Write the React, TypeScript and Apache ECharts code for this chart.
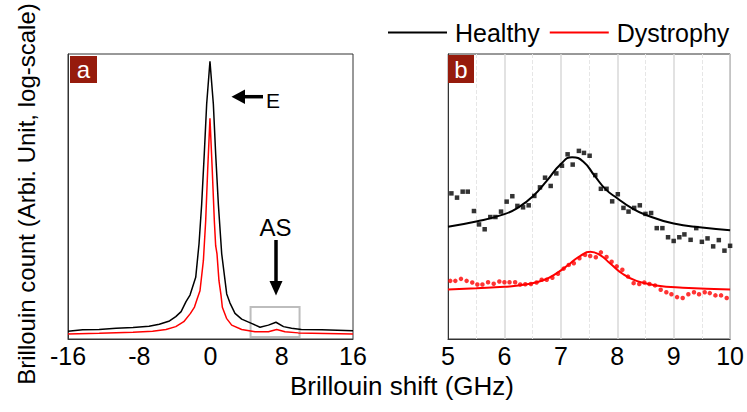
import React, { useEffect, useRef } from "react";
import * as echarts from "echarts";

// ---- Panel a: full spectrum (log-scale counts) ----
const aHealthyX = [-16, -14.35, -12.5, -10.6, -8.7, -6.9, -5.75, -4.6, -3.9, -3.3, -2.75, -2.3, -1.66, -1.29, -0.99, -0.7, -0.43, -0.06, 0.32, 0.58, 0.88, 1.26, 1.82, 2.19, 2.75, 3.5, 4.6, 5.56, 6.5, 7.35, 8.2, 9.1, 10.2, 12.5, 16];
const aHealthyY = [121, 125, 126, 130, 132, 136, 143, 155, 172, 194, 247, 290, 446, 1000, 2636, 8850, 29770, 83750, 29770, 8850, 2636, 785, 298, 239, 186, 162, 146, 133, 140, 150, 135, 130, 126, 125, 122];
const aDysX = [-16, -12.5, -8.7, -6.5, -5.0, -3.9, -3.0, -2.25, -1.8, -1.5, -1.18, -0.8, -0.54, -0.32, -0.06, 0.2, 0.43, 0.58, 0.73, 0.95, 1.18, 1.33, 1.8, 2.38, 3.5, 5.0, 6.5, 7.43, 8.37, 9.86, 16];
const aDysY = [113, 115, 118, 121, 126, 135, 152, 186, 217, 264, 322, 667, 1760, 5910, 21050, 5910, 1760, 960, 785, 411, 290, 216, 165, 140, 126, 119, 119, 126, 119, 116, 113];
const aTicks = [-16, -8, 0, 8, 16];
const aBoxX = [4.5, 10];
const aBoxY = [105, 217];

// ---- Panel b: anti-Stokes peak (normalized intensity) ----
const bHealthyX = [5.06, 5.16, 5.26, 5.35, 5.46, 5.55, 5.65, 5.75, 5.84, 5.94, 6.04, 6.14, 6.23, 6.33, 6.43, 6.53, 6.63, 6.72, 6.82, 6.92, 7.02, 7.12, 7.21, 7.32, 7.41, 7.51, 7.61, 7.71, 7.81, 7.91, 8.01, 8.11, 8.2, 8.3, 8.4, 8.5, 8.6, 8.7, 8.8, 8.9, 9.0, 9.1, 9.19, 9.3, 9.4, 9.5, 9.6, 9.7, 9.8, 9.9, 10.0];
const bHealthyY = [0.511, 0.496, 0.517, 0.517, 0.449, 0.402, 0.385, 0.428, 0.428, 0.447, 0.482, 0.501, 0.467, 0.462, 0.469, 0.502, 0.532, 0.566, 0.537, 0.581, 0.608, 0.648, 0.612, 0.66, 0.653, 0.643, 0.575, 0.527, 0.527, 0.483, 0.508, 0.46, 0.447, 0.46, 0.469, 0.439, 0.442, 0.389, 0.389, 0.357, 0.344, 0.357, 0.367, 0.348, 0.389, 0.341, 0.353, 0.325, 0.347, 0.31, 0.327];
const bDysX = [5.04, 5.13, 5.23, 5.33, 5.43, 5.52, 5.61, 5.71, 5.81, 5.91, 6.0, 6.09, 6.19, 6.28, 6.37, 6.47, 6.57, 6.66, 6.75, 6.85, 6.95, 7.05, 7.14, 7.23, 7.33, 7.43, 7.52, 7.62, 7.71, 7.81, 7.9, 7.99, 8.09, 8.19, 8.29, 8.39, 8.48, 8.57, 8.67, 8.77, 8.87, 8.96, 9.06, 9.16, 9.26, 9.36, 9.45, 9.55, 9.64, 9.74, 9.84, 9.94];
const bDysY = [0.204, 0.204, 0.211, 0.204, 0.198, 0.191, 0.191, 0.199, 0.194, 0.202, 0.199, 0.199, 0.199, 0.191, 0.192, 0.193, 0.198, 0.208, 0.208, 0.215, 0.229, 0.247, 0.26, 0.266, 0.283, 0.295, 0.291, 0.287, 0.304, 0.288, 0.271, 0.255, 0.243, 0.219, 0.196, 0.193, 0.198, 0.193, 0.188, 0.173, 0.164, 0.157, 0.147, 0.144, 0.157, 0.164, 0.157, 0.164, 0.161, 0.153, 0.153, 0.144];
const bFitHealthyX = [5.0, 5.5, 6.0, 6.25, 6.5, 6.75, 7.0, 7.2, 7.4, 7.6, 7.8, 8.0, 8.25, 8.5, 9.0, 9.5, 10.0];
const bFitHealthyY = [0.394, 0.412, 0.438, 0.462, 0.5, 0.555, 0.614, 0.638, 0.622, 0.572, 0.524, 0.494, 0.46, 0.436, 0.405, 0.391, 0.382];
const bFitDysX = [5.0, 5.5, 6.0, 6.4, 6.7, 6.93, 7.17, 7.34, 7.52, 7.69, 7.87, 8.1, 8.34, 8.69, 9.16, 10.0];
const bFitDysY = [0.174, 0.178, 0.183, 0.192, 0.207, 0.231, 0.266, 0.291, 0.306, 0.295, 0.266, 0.228, 0.204, 0.188, 0.18, 0.174];
const bTicks = [5, 6, 7, 8, 9, 10];

const seriesNames = ["Healthy", "Dystrophy"];
const xTitle = "Brillouin shift (GHz)";
const yTitle = "Brillouin count (Arbi. Unit, log-scale)";

const FONT = "'Liberation Sans', Arial, Helvetica, sans-serif";
const BLACK = "#000000";
const RED = "#FF0000";
const TAG = "#961B0C";

const zip = (xs: number[], ys: number[]) => xs.map((x, i) => [x, ys[i]]);

export default function App() {
  const ref = useRef<HTMLDivElement | null>(null);

  useEffect(() => {
    if (!ref.current) return;
    const chart = echarts.init(ref.current, undefined, { renderer: "svg" });

    const xAxisBase = {
      type: "value",
      axisTick: { show: false },
      axisLine: { show: true, onZero: false, lineStyle: { color: "#333", width: 1 } },
      axisLabel: { fontSize: 25, color: "#000", fontFamily: FONT, margin: 4, showMinLabel: true, showMaxLabel: true },
    };
    const hiddenY = {
      axisLabel: { show: false },
      axisTick: { show: false },
      splitLine: { show: false },
      axisLine: { show: true, onZero: false, lineStyle: { color: "#333", width: 1 } },
    };

    const option: any = {
      animation: false,
      backgroundColor: "#fff",
      textStyle: { fontFamily: FONT },
      legend: {
        data: [
          { name: seriesNames[0], icon: "rect" },
          { name: seriesNames[1], icon: "rect" },
        ],
        left: 388,
        top: 20,
        itemWidth: 59,
        itemHeight: 2,
        itemGap: 10,
        padding: 0,
        textStyle: { fontSize: 25, color: "#000", fontFamily: FONT, padding: [0, 0, 0, 3] },
      },
      grid: [
        { left: 68, top: 54, width: 285, height: 285, show: true, borderColor: "#333", borderWidth: 1, containLabel: false },
        { left: 448, top: 54, width: 285, height: 285, show: true, borderColor: "#333", borderWidth: 1, containLabel: false },
      ],
      xAxis: [
        {
          ...xAxisBase,
          gridIndex: 0,
          min: aTicks[0],
          max: aTicks[aTicks.length - 1],
          interval: 8,
          splitLine: { show: false },
        },
        {
          ...xAxisBase,
          gridIndex: 1,
          min: bTicks[0],
          max: bTicks[bTicks.length - 1],
          interval: 1,
          splitLine: { show: true, lineStyle: { color: "#D9D9D9", width: 1.5 } },
          minorTick: { show: false, splitNumber: 2 },
          minorSplitLine: { show: true, lineStyle: { color: "#E6E6E6", width: 1, type: "dashed" } },
        },
      ],
      yAxis: [
        { type: "log", logBase: 10, gridIndex: 0, min: 100, max: 100000, ...hiddenY },
        { type: "value", gridIndex: 1, min: 0, max: 1, ...hiddenY },
      ],
      series: [
        {
          name: seriesNames[0],
          type: "line",
          xAxisIndex: 0,
          yAxisIndex: 0,
          data: zip(aHealthyX, aHealthyY),
          symbol: "none",
          color: BLACK,
          lineStyle: { color: BLACK, width: 1.5 },
          z: 3,
          markArea: {
            silent: true,
            label: { show: false },
            itemStyle: { color: "rgba(0,0,0,0)", borderColor: "#BDBDBD", borderWidth: 2 },
            data: [[{ xAxis: aBoxX[0], yAxis: aBoxY[0] }, { xAxis: aBoxX[1], yAxis: aBoxY[1] }]],
          },
        },
        {
          name: seriesNames[1],
          type: "line",
          xAxisIndex: 0,
          yAxisIndex: 0,
          data: zip(aDysX, aDysY),
          symbol: "none",
          color: RED,
          lineStyle: { color: RED, width: 1.5 },
          z: 3,
        },
        {
          name: seriesNames[0],
          type: "line",
          xAxisIndex: 1,
          yAxisIndex: 1,
          data: zip(bFitHealthyX, bFitHealthyY),
          symbol: "none",
          smooth: true,
          color: BLACK,
          lineStyle: { color: BLACK, width: 2 },
          z: 3,
        },
        {
          name: seriesNames[1],
          type: "line",
          xAxisIndex: 1,
          yAxisIndex: 1,
          data: zip(bFitDysX, bFitDysY),
          symbol: "none",
          smooth: true,
          color: RED,
          lineStyle: { color: RED, width: 2 },
          z: 3,
        },
        {
          name: seriesNames[0],
          type: "scatter",
          xAxisIndex: 1,
          yAxisIndex: 1,
          data: zip(bHealthyX, bHealthyY),
          symbol: "rect",
          symbolSize: 4.5,
          itemStyle: { color: BLACK },
          z: 4,
        },
        {
          name: seriesNames[1],
          type: "scatter",
          xAxisIndex: 1,
          yAxisIndex: 1,
          data: zip(bDysX, bDysY),
          symbol: "circle",
          symbolSize: 4.5,
          itemStyle: { color: RED },
          z: 4,
        },
      ],
      graphic: [
        // panel tags
        { type: "rect", shape: { x: 70, y: 56, width: 27, height: 27 }, style: { fill: TAG }, z: 10 },
        { type: "text", x: 83.5, y: 69.5, style: { text: "a", fill: "#fff", fontSize: 24, fontFamily: FONT, align: "center", verticalAlign: "middle" }, z: 11 },
        { type: "rect", shape: { x: 448, y: 55, width: 26, height: 28 }, style: { fill: TAG }, z: 10 },
        { type: "text", x: 461, y: 69.5, style: { text: "b", fill: "#fff", fontSize: 24, fontFamily: FONT, align: "center", verticalAlign: "middle" }, z: 11 },
        // E arrow
        { type: "polygon", shape: { points: [[231.5, 96.7], [245, 89.5], [245, 104]] }, style: { fill: "#000" }, z: 10 },
        { type: "line", shape: { x1: 244, y1: 96.7, x2: 263, y2: 96.7 }, style: { stroke: "#000", lineWidth: 3.5 }, z: 10 },
        { type: "text", x: 266, y: 100.5, style: { text: "E", fill: "#000", fontSize: 21, fontFamily: FONT, align: "left", verticalAlign: "middle" }, z: 10 },
        // AS arrow
        { type: "line", shape: { x1: 276, y1: 240, x2: 276, y2: 283 }, style: { stroke: "#000", lineWidth: 3.5 }, z: 10 },
        { type: "polygon", shape: { points: [[276, 295.5], [269.5, 281], [282.5, 281]] }, style: { fill: "#000" }, z: 10 },
        { type: "text", x: 275.5, y: 227, style: { text: "AS", fill: "#000", fontSize: 24, fontFamily: FONT, align: "center", verticalAlign: "middle" }, z: 10 },
        // axis titles
        { type: "text", x: 402, y: 386, style: { text: xTitle, fill: "#000", fontSize: 26, fontFamily: FONT, align: "center", verticalAlign: "middle" } },
        { type: "text", x: 26, y: 194, rotation: Math.PI / 2, style: { text: yTitle, fill: "#000", fontSize: 24, fontFamily: FONT, align: "center", verticalAlign: "middle" } },
      ],
    };

    chart.setOption(option);
    return () => {
      chart.dispose();
    };
  }, []);

  return (
    <div
      ref={ref}
      style={{ position: "fixed", left: 0, top: 0, width: 747, height: 412, background: "#fff" }}
    />
  );
}
